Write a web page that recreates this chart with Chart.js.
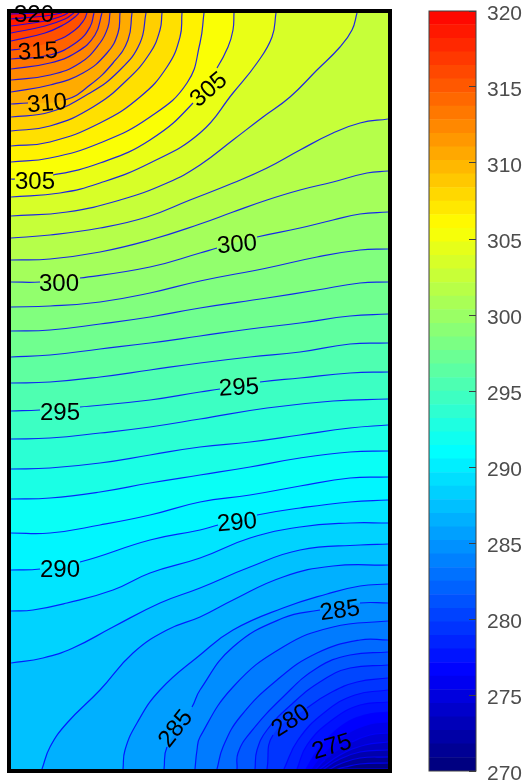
<!DOCTYPE html>
<html>
<head>
<meta charset="utf-8">
<script src="https://cdn.jsdelivr.net/npm/chart.js@4/dist/chart.umd.js"></script>
<style>
  body { margin: 0; background: #fff; }
  canvas { position: absolute; top: 0; }
  #contour { left: 0; }
  #colorbar { left: 415px; }
</style>
</head>
<body>
<canvas id="contour" width="410" height="783"></canvas>
<canvas id="colorbar" width="110" height="783"></canvas>
<script>
// Contour lines: [x, y] or [x, y, 1] where 1 = label gap starts here
const line320 = [[0,755],[29,756]];
const line319 = [[0,750],[34,753],[51,756]];
const line318 = [[0,743],[34,748],[51,753],[57,756]];
const line317 = [[0,736],[34,743],[54,750],[63,756]];
const line316 = [[0,728],[34,736],[54,745],[64,752],[68,756]];
const line315 = [[0,719],[9,720,1],[44,728],[64,739],[73,749],[76,756]];
const line314 = [[0,710],[39,714],[66,727],[79,742],[83,756]];
const line313 = [[0,700],[39,706],[66,717],[84,734],[91,756]];
const line312 = [[0,689],[39,694],[69,706],[89,726],[97,742],[99,756]];
const line311 = [[0,677],[39,684],[72,696],[96,716],[107,736],[109,756]];
const line310 = [[0,665],[17,666,1],[54,669],[79,684],[102,706],[117,729],[121,756]];
const line309 = [[0,652],[39,657],[79,676],[109,699],[129,726],[135,756]];
const line308 = [[0,638],[39,643],[82,662],[116,689],[139,716],[149,739],[151,756]];
const line307 = [[0,623],[39,627],[89,646],[129,672],[156,702],[169,732],[171,756]];
const line306 = [[0,607],[39,611],[89,626],[139,652],[176,686],[189,726],[193,756]];
const line305 = [[0,590],[4,590,1],[42,594],[89,606],[139,629],[182,666,1],[206,701],[217,722],[222,739],[223,756]];
const line304 = [[0,572],[49,576],[89,586],[139,606],[189,636],[222,676],[246,706],[261,732],[265,756]];
const line303 = [[0,553],[56,557],[109,569],[156,586],[189,604],[222,629],[252,652],[279,672],[306,699],[329,722],[341,739],[346,756]];
const line302 = [[0,531],[39,534],[89,541],[136,552],[179,569],[222,586],[256,601],[289,619],[322,636],[349,646],[377,650]];
const line301 = [[0,509],[39,510],[89,517],[139,529],[189,545],[222,557],[256,569],[289,579],[322,587],[356,596],[377,598]];
const line300 = [[0,487],[29,487,1],[69,491],[139,502],[189,516],[206,521,1],[246,532],[289,541],[322,549],[349,555],[377,557]];
const line299 = [[0,462],[39,463],[89,467],[139,476],[189,488],[256,501],[306,512],[349,519],[377,520]];
const line298 = [[0,438],[39,439],[89,445],[139,452],[189,461],[256,471],[306,479],[349,486],[377,487]];
const line297 = [[0,412],[39,414],[89,420],[139,426],[189,433],[239,440],[289,446],[339,453],[377,455]];
const line296 = [[0,386],[39,387],[89,392],[139,399],[189,406],[239,412],[289,417],[339,425],[377,426]];
const line295 = [[0,358],[29,359,1],[69,362],[139,369],[189,377],[209,380,1],[249,387],[289,391],[339,396],[377,397]];
const line294 = [[0,330],[39,331],[89,336],[139,342],[189,350],[256,361],[322,368],[377,370]];
const line293 = [[0,300],[39,301],[89,306],[139,314],[189,322],[239,327],[289,334],[339,341],[377,344]];
const line292 = [[0,270],[39,271],[89,277],[139,286],[189,294],[239,302],[289,311],[339,317],[377,318]];
const line291 = [[0,236],[39,236],[89,244],[139,254],[189,267],[239,274],[289,283],[339,291],[377,292]];
const line290 = [[0,199],[29,200,1],[69,207],[139,229],[189,239],[207,244,1],[246,254],[289,261],[339,267],[377,269]];
const line289 = [[0,158],[22,159],[56,166],[102,179],[139,196],[189,211],[239,231],[289,242],[339,246],[377,246]];
const line288 = [[0,106],[32,111],[62,121],[102,142],[149,166],[189,181],[239,202],[289,219],[349,224],[377,225]];
const line287 = [[31,0],[39,22],[56,46],[89,79],[122,116],[156,139],[189,152],[222,169],[272,192],[322,203],[377,204]];
const line286 = [[112,0],[114,19],[126,46],[149,79],[189,114],[222,139],[272,161],[316,175],[349,183],[377,185]];
const line285 = [[153,0],[156,22,1],[181,62],[189,79],[222,122],[272,151],[309,159,1],[349,166],[377,166]];
const line284 = [[184,0],[186,19],[189,32],[222,82],[272,122],[322,142],[377,148]];
const line283 = [[206,0],[212,22],[229,52],[266,89],[306,116],[349,129],[377,129]];
const line282 = [[226,0],[227,16],[239,36],[272,72],[306,101],[339,114],[377,117]];
const line281 = [[244,0],[246,19],[256,39],[282,66],[312,89],[339,101],[377,104]];
const line280 = [[256,0],[262,34,1],[296,61],[319,76],[346,87],[377,91]];
const line279 = [[273,0],[287,29],[314,57],[344,74],[377,79]];
const line278 = [[286,0],[296,24],[321,49],[349,64],[377,67]];
const line277 = [[295,0],[307,19],[329,42],[354,54],[377,57]];
const line276 = [[300,0],[311,14],[334,34],[359,45],[377,47]];
const line275 = [[305,0],[314,9,1],[341,27],[359,34],[377,36]];
const line274 = [[309,0],[329,14],[354,24],[377,27]];
const line273 = [[313,0],[327,9],[349,17],[377,19]];
const line272 = [[319,0],[329,5],[349,11],[377,12]];
const line271 = [[327,0],[334,2],[349,5],[377,6]];
const line270 = [[0,0],[377,0]];

// Highest first: chart.js paints dataset 0 last
const contourLevels = [320,319,318,317,316,315,314,313,312,311,310,309,308,307,306,305,304,303,302,301,
  300,299,298,297,296,295,294,293,292,291,290,289,288,287,286,285,284,283,282,281,
  280,279,278,277,276,275,274,273,272,271,270];
const contourLines = [line320,line319,line318,line317,line316,line315,line314,line313,line312,line311,
  line310,line309,line308,line307,line306,line305,line304,line303,line302,line301,
  line300,line299,line298,line297,line296,line295,line294,line293,line292,line291,
  line290,line289,line288,line287,line286,line285,line284,line283,line282,line281,
  line280,line279,line278,line277,line276,line275,line274,line273,line272,line271,line270];

// Inline contour labels: text, x, y, rotation
const labelTexts = ['320','315','310','305','305','300','300','295','295','290','290','285','285','280','275'];
const labelX = [23,27,36,24,198,48,226,49,228,49,226,165,329,280,321];
const labelY = [754,717,665,587,679,485,524,356,381,199,246,40,158,48,22];
const labelAngle = [0,-3,-5,0,-40,0,-5,0,-3,0,-5,-52,-8,-33,-17];

// Colour key
const colorbarTicks = [270,275,280,285,290,295,300,305,310,315,320];
const colorbarEdges = [270,270.89,271.79,272.68,273.57,274.46,275.36,276.25,277.14,278.04,278.93,279.82,
  280.71,281.61,282.5,283.39,284.29,285.18,286.07,286.96,287.86,288.75,289.64,290.54,291.43,292.32,293.21,294.11,
  295,295.89,296.79,297.68,298.57,299.46,300.36,301.25,302.14,303.04,303.93,304.82,305.71,306.61,307.5,308.39,
  309.29,310.18,311.07,311.96,312.86,313.75,314.64,315.54,316.43,317.32,318.21,319.11,320];
const stopValues = [270,276.5,291,305.8,320];
const stopColors = [[0,0,120],[0,0,255],[0,255,255],[255,255,0],[255,0,0]];

function levelColor(value) {
  let i = 0;
  while (i < stopValues.length - 2 && value > stopValues[i + 1]) i++;
  const t = Math.min(1, Math.max(0, (value - stopValues[i]) / (stopValues[i + 1] - stopValues[i])));
  const rgb = stopColors[i].map((c, k) => Math.round(c + (stopColors[i + 1][k] - c) * t));
  return `rgb(${rgb[0]}, ${rgb[1]}, ${rgb[2]})`;
}

// Build one filled line dataset per level
const contourDatasets = contourLines.map((line, idx) => {
  let points = line.map(p => ({ x: p[0], y: p[1], gap: p[2] === 1 }));
  // lines that start on the bottom edge still have to fill everything to their left;
  // the helper points sit below the axis so they get clipped and keep the curve straight
  if (points[0].x > 0) {
    const a = points[0], b = points[1];
    const helperX = a.x - (b.x - a.x) * 0.5;
    const helperY = a.y - (b.y - a.y) * 0.5;
    points = [{ x: 0, y: helperY, gap: false }, { x: helperX, y: helperY, gap: false }].concat(points);
  }
  return {
    data: points,
    showLine: true,
    pointRadius: 0,
    tension: 0.45,
    fill: 'end',
    backgroundColor: levelColor(contourLevels[idx] + 0.5),
    borderColor: 'rgba(0, 0, 255, 0.85)',
    borderWidth: 1.2,
    segment: {
      borderColor: ctx => (points[ctx.p0DataIndex].gap ? 'transparent' : undefined)
    }
  };
});

// Frame and inline labels on top of the contours
const contourOverlay = {
  id: 'contourOverlay',
  afterDatasetsDraw(chart) {
    const { ctx, chartArea: a, scales } = chart;
    ctx.save();
    ctx.strokeStyle = '#000';
    ctx.lineWidth = 4;
    ctx.strokeRect(a.left - 2, a.top - 2, a.right - a.left + 4, a.bottom - a.top + 4);
    ctx.fillStyle = '#000';
    ctx.font = '24px "Liberation Sans"';
    ctx.textAlign = 'center';
    ctx.textBaseline = 'middle';
    labelTexts.forEach((text, i) => {
      ctx.save();
      ctx.translate(scales.x.getPixelForValue(labelX[i]), scales.y.getPixelForValue(labelY[i]));
      ctx.rotate(labelAngle[i] * Math.PI / 180);
      ctx.fillText(text, 0, 0);
      ctx.restore();
    });
    ctx.restore();
  }
};

new Chart(document.getElementById('contour'), {
  type: 'scatter',
  data: { datasets: contourDatasets },
  options: {
    responsive: false,
    animation: false,
    layout: { padding: { left: 11, right: 22, top: 13, bottom: 14 } },
    plugins: { legend: { display: false }, tooltip: { enabled: false } },
    scales: {
      x: { display: false, min: 0, max: 377 },
      y: { display: false, min: 0, max: 756 }
    }
  },
  plugins: [contourOverlay]
});

const colorbarFrame = {
  id: 'colorbarFrame',
  afterDatasetsDraw(chart) {
    const { ctx, chartArea: a } = chart;
    ctx.save();
    ctx.strokeStyle = '#404040';
    ctx.lineWidth = 1;
    ctx.strokeRect(a.left, a.top, a.right - a.left, a.bottom - a.top);
    ctx.restore();
  }
};

new Chart(document.getElementById('colorbar'), {
  type: 'bar',
  data: {
    labels: [''],
    datasets: colorbarEdges.slice(0, -1).map((lo, i) => ({
      data: [[lo, colorbarEdges[i + 1]]],
      backgroundColor: levelColor((lo + colorbarEdges[i + 1]) / 2)
    }))
  },
  options: {
    responsive: false,
    animation: false,
    datasets: { bar: { grouped: false, barPercentage: 1, categoryPercentage: 1 } },
    layout: { padding: { left: 14, right: 0, top: 11, bottom: 12 } },
    plugins: { legend: { display: false }, tooltip: { enabled: false } },
    scales: {
      x: { display: false },
      y: {
        position: 'right',
        min: 270,
        max: 320,
        afterBuildTicks(scale) { scale.ticks = colorbarTicks.map(value => ({ value })); },
        afterFit(scale) { scale.width = 49; scale.paddingTop = 0; scale.paddingBottom = 0; },
        border: { display: false },
        // z above the bars so the inward tick marks stay visible
        grid: { drawOnChartArea: false, tickLength: -7, tickColor: '#404040', z: 1 },
        ticks: {
          padding: 18,
          labelOffset: 3,
          color: '#4d4d4d',
          font: { family: '"Liberation Sans"', size: 21 }
        }
      }
    }
  },
  plugins: [colorbarFrame]
});
</script>
</body>
</html>
